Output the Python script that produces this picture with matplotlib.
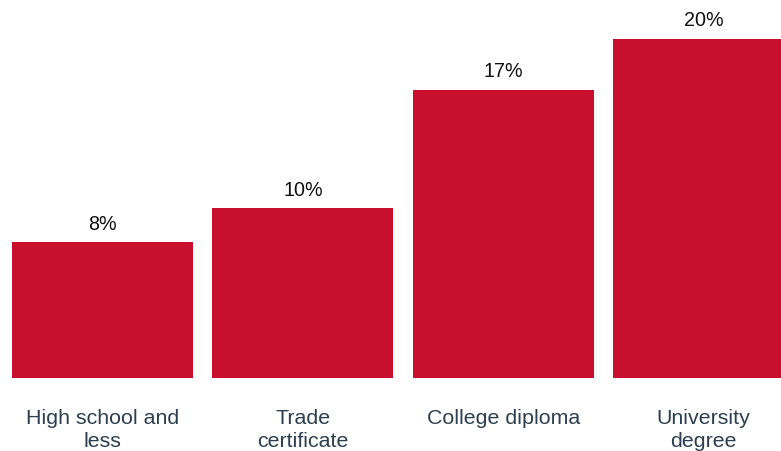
import matplotlib
matplotlib.use("Agg")
import matplotlib.pyplot as plt

# Share of respondents by highest level of education
categories = ["High school and\nless", "Trade\ncertificate", "College diploma", "University\ndegree"]
values = [8, 10, 17, 20]
value_labels = ["8%", "10%", "17%", "20%"]

plt.rcParams['font.family'] = ['Liberation Sans', 'DejaVu Sans']

fig = plt.figure(figsize=(7.81, 4.51), dpi=100)
ax = fig.add_axes([0, 73 / 451, 1, 378 / 451])

x = list(range(len(categories)))
bars = ax.bar(x, values, width=0.904, color='#C8102E')

for xi, v, lab in zip(x, values, value_labels):
    ax.annotate(lab, (xi, v), xytext=(0, 13), textcoords='offset points',
                ha='center', va='center', fontsize=14.2, color='#111111')

ax.set_xlim(-0.5117, 3.387)
ax.set_ylim(0, 22.3)
ax.set_xticks(x)
ax.set_xticklabels(categories, fontsize=15.4, color='#2C3E50', linespacing=1.32)
ax.tick_params(axis='x', length=0, pad=22)
ax.set_yticks([])
for s in ax.spines.values():
    s.set_visible(False)

fig.savefig("out.png", dpi=100)
